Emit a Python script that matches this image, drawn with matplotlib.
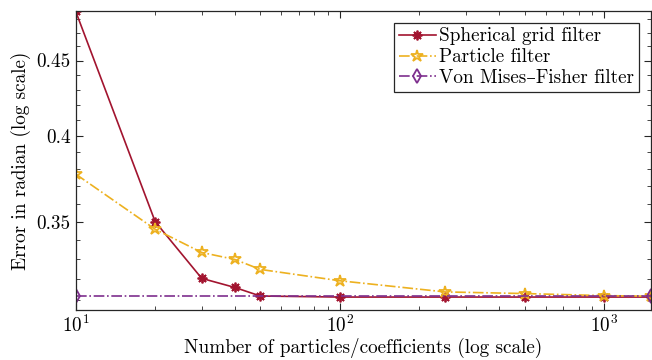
import matplotlib
matplotlib.use("Agg")
import matplotlib.pyplot as plt
from matplotlib.ticker import FixedLocator, FixedFormatter, LogLocator, LogFormatterMathtext, NullFormatter

plt.rcParams['font.family'] = ['cmr10', 'DejaVu Serif']
plt.rcParams['mathtext.fontset'] = 'cm'
plt.rcParams['axes.formatter.use_mathtext'] = True

# data
n_points = [10, 20, 30, 40, 50, 100, 250, 500, 1000, 1500]
spherical_err = [0.486, 0.350, 0.3204, 0.3159, 0.3117, 0.3112, 0.3112, 0.3112, 0.3112, 0.3112]
particle_err = [0.377, 0.3459, 0.3336, 0.330, 0.3249, 0.3192, 0.3137, 0.3129, 0.3119, 0.3116]
vmf_n = [10, 1500]
vmf_err = [0.3115, 0.3115]

y_ticks = [0.35, 0.4, 0.45]
y_ticklabels = ['0.35', '0.4', '0.45']
y_minor = [0.31, 0.32, 0.33, 0.34, 0.36, 0.37, 0.38, 0.39, 0.41, 0.42, 0.43, 0.44, 0.46, 0.47, 0.48]

fs = 13.8

fig = plt.figure(figsize=(6.52, 3.6), dpi=100)
ax = fig.add_axes([0.116, 0.139, 0.882, 0.830])

ax.plot(n_points, spherical_err, '-', color='#A2142F', lw=1.2, marker=(8, 2, 0), ms=7, mew=1.3,
        label='Spherical grid filter')
ax.plot(n_points, particle_err, '-.', color='#EDB120', lw=1.2, marker='*', ms=9, mfc='none', mew=1.3,
        label='Particle filter')
ax.plot(vmf_n, vmf_err, '-.', color='#7E2F8E', lw=1.2, marker='d', ms=7, mfc='none', mew=1.3,
        label='Von Mises–Fisher filter')

ax.set_xscale('log')
ax.set_yscale('log')
ax.set_xlim(10, 1500)
ax.set_ylim(0.305, 0.486)

ax.xaxis.set_major_locator(LogLocator(base=10))
ax.xaxis.set_major_formatter(LogFormatterMathtext())
ax.xaxis.set_minor_formatter(NullFormatter())
ax.yaxis.set_major_locator(FixedLocator(y_ticks))
ax.yaxis.set_major_formatter(FixedFormatter(y_ticklabels))
ax.yaxis.set_minor_locator(FixedLocator(y_minor))
ax.yaxis.set_minor_formatter(NullFormatter())

ax.tick_params(which='both', direction='in', top=True, right=True, labelsize=fs, color='#262626')
ax.tick_params(which='major', length=5)
ax.tick_params(which='minor', length=3)
for s in ax.spines.values():
    s.set_color('#262626')
    s.set_linewidth(0.9)

ax.set_xlabel('Number of particles/coefficients (log scale)', fontsize=fs, labelpad=1)
ax.set_ylabel('Error in radian (log scale)', fontsize=fs, labelpad=4)

leg = ax.legend(loc='upper right', fontsize=fs, fancybox=False, edgecolor='#262626',
                framealpha=1, handlelength=1.9, handletextpad=0.2, borderpad=0.25,
                labelspacing=0.15, borderaxespad=0.6)
leg.get_frame().set_linewidth(0.9)

fig.savefig('out.png', dpi=100)
